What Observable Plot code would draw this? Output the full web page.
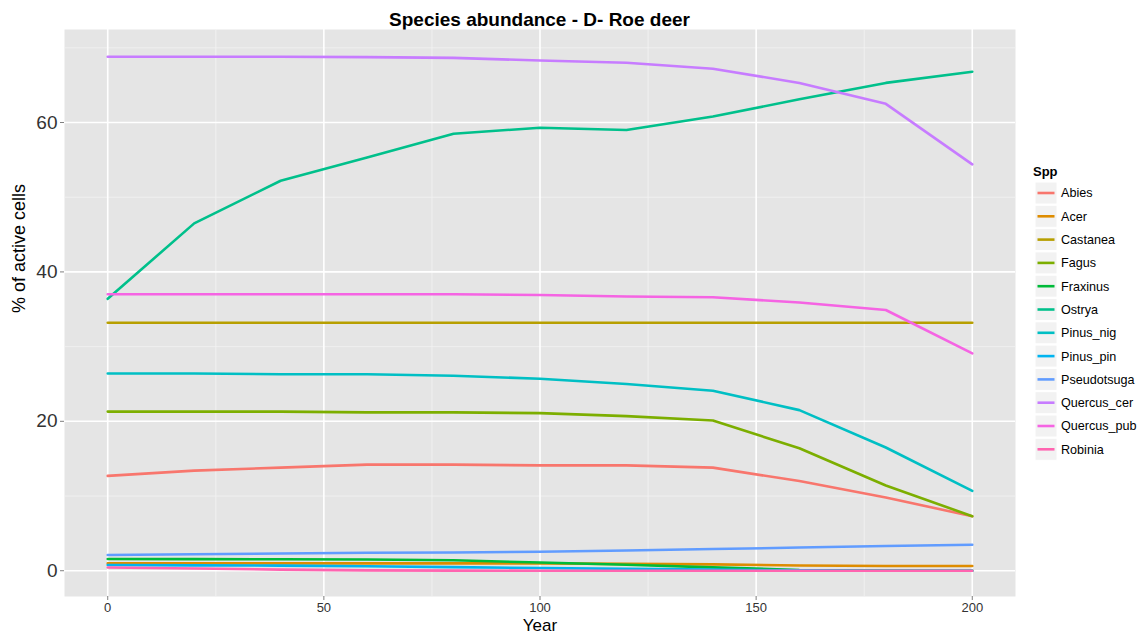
<!DOCTYPE html>
<html>
<head>
<meta charset="utf-8">
<script src="https://cdn.jsdelivr.net/npm/d3@7"></script>
<script src="https://cdn.jsdelivr.net/npm/@observablehq/plot@0.6"></script>
<style>
  html, body { margin: 0; padding: 0; background: #fff; }
  body { font-family: "Liberation Sans", Arial, sans-serif; }
  #wrap { position: relative; width: 1139px; height: 634px; overflow: hidden; }
  #title { position: absolute; left: 64px; width: 951px; top: 0; height: 29px; text-align: center;
           font-weight: bold; font-size: 19px; line-height: 19px; padding-top: 10px; box-sizing: border-box; color: #000; }
  #chart { position: absolute; left: 0; top: 29px; }
  #legend { position: absolute; left: 1030px; top: 158px; }
</style>
</head>
<body>
<div id="wrap">
  <div id="title">Species abundance - D- Roe deer</div>
  <div id="chart"></div>
  <div id="legend"></div>
</div>
<script>
const years = [0, 20, 40, 60, 80, 100, 120, 140, 160, 180, 200];
const species = ["Abies", "Acer", "Castanea", "Fagus", "Fraxinus", "Ostrya", "Pinus_nig", "Pinus_pin", "Pseudotsuga", "Quercus_cer", "Quercus_pub", "Robinia"];
const colors = ["#F8766D", "#DE8C00", "#B79F00", "#7CAE00", "#00BA38", "#00C08B", "#00BFC4", "#00B4F0", "#619CFF", "#C77CFF", "#F564E3", "#FF64B0"];

const abies       = [12.7, 13.4, 13.8, 14.2, 14.2, 14.1, 14.1, 13.8, 12.0, 9.8, 7.3];
const acer        = [0.98, 0.98, 0.98, 0.98, 0.98, 0.98, 0.92, 0.85, 0.7, 0.63, 0.63];
const castanea    = [33.2, 33.2, 33.2, 33.2, 33.2, 33.2, 33.2, 33.2, 33.2, 33.2, 33.2];
const fagus       = [21.3, 21.3, 21.3, 21.2, 21.2, 21.1, 20.7, 20.1, 16.4, 11.4, 7.3];
const fraxinus    = [1.57, 1.55, 1.53, 1.5, 1.4, 1.1, 0.8, 0.45, 0.1, 0.02, 0.0];
const ostrya      = [36.4, 46.5, 52.2, 55.3, 58.5, 59.3, 59.0, 60.8, 63.1, 65.3, 66.8];
const pinusNig    = [26.4, 26.4, 26.3, 26.3, 26.1, 25.7, 25.0, 24.1, 21.5, 16.5, 10.7];
const pinusPin    = [0.76, 0.72, 0.68, 0.6, 0.48, 0.36, 0.25, 0.15, 0.05, 0.0, 0.0];
const pseudotsuga = [2.1, 2.2, 2.3, 2.4, 2.45, 2.54, 2.7, 2.9, 3.1, 3.3, 3.48];
const quercusCer  = [68.8, 68.8, 68.8, 68.75, 68.65, 68.3, 68.0, 67.2, 65.3, 62.5, 54.4];
const quercusPub  = [37.0, 37.0, 37.0, 37.0, 37.0, 36.9, 36.7, 36.6, 35.9, 34.9, 29.1];
const robinia     = [0.44, 0.3, 0.15, 0.05, 0.02, 0.0, 0.0, 0.0, 0.0, 0.0, 0.0];

const xTicks = [0, 50, 100, 150, 200];
const xMinor = [25, 75, 125, 175];
const yTicks = [0, 20, 40, 60];
const yMinor = [10, 30, 50, 70];

const series = [abies, acer, castanea, fagus, fraxinus, ostrya, pinusNig, pinusPin, pseudotsuga, quercusCer, quercusPub, robinia];
const data = [];
species.forEach((s, i) => years.forEach((yr, j) => data.push({species: s, year: yr, value: series[i][j]})));

const chart = Plot.plot({
  width: 1030,
  height: 605,
  marginLeft: 64,
  marginRight: 15,
  marginTop: 0,
  marginBottom: 38,
  style: {fontFamily: '"Liberation Sans", Arial, sans-serif', background: "transparent", overflow: "visible"},
  x: {domain: [-10, 210]},
  y: {domain: [-3.45, 72.45]},
  color: {domain: species, range: colors},
  marks: [
    Plot.frame({fill: "#E5E5E5", stroke: null}),
    Plot.ruleX(xMinor, {stroke: "#F2F2F2", strokeWidth: 0.8}),
    Plot.ruleY(yMinor, {stroke: "#F2F2F2", strokeWidth: 0.8}),
    Plot.ruleX(xTicks, {stroke: "#FFFFFF", strokeWidth: 1.6}),
    Plot.ruleY(yTicks, {stroke: "#FFFFFF", strokeWidth: 1.6}),
    Plot.axisX({ticks: xTicks, tickSize: 4, tickPadding: 2, fontSize: 13, stroke: "#7F7F7F", fill: "#333333", label: null}),
    Plot.axisY({ticks: yTicks, tickSize: 4, tickPadding: 3, fontSize: 19, stroke: "#7F7F7F", fill: "#333333", label: null}),
    Plot.lineY(data, {x: "year", y: "value", z: "species", stroke: "species", strokeWidth: 2.6}),
    Plot.text(["Year"], {frameAnchor: "bottom", dy: 22, lineAnchor: "top", fontSize: 17, fill: "#000"}),
    Plot.text(["% of active cells"], {frameAnchor: "left", dx: -45, rotate: -90, fontSize: 18, fill: "#000"})
  ]
});
document.getElementById("chart").appendChild(chart);

// legend (ggplot-style keys)
const rowH = 23.3, keyTop = 24;
const svg = d3.select("#legend").append("svg")
  .attr("width", 109).attr("height", keyTop + rowH * species.length + 4)
  .style("font-family", '"Liberation Sans", Arial, sans-serif');
svg.append("text").attr("x", 3).attr("y", 13).attr("dy", "0.35em")
  .attr("font-weight", "bold").attr("font-size", 13).text("Spp");
const rows = svg.selectAll("g.row").data(species).join("g")
  .attr("transform", (d, i) => `translate(5,${keyTop + i * rowH})`);
rows.append("rect").attr("width", 22).attr("height", 22).attr("fill", "#F2F2F2").attr("stroke", "#fff").attr("stroke-width", 1);
rows.append("line").attr("x1", 2.5).attr("x2", 19.5).attr("y1", 11).attr("y2", 11)
  .attr("stroke", (d, i) => colors[i]).attr("stroke-width", 2.6);
rows.append("text").attr("x", 26).attr("y", 11).attr("dy", "0.35em").attr("font-size", 12.6).attr("fill", "#000").text(d => d);
</script>
</body>
</html>
